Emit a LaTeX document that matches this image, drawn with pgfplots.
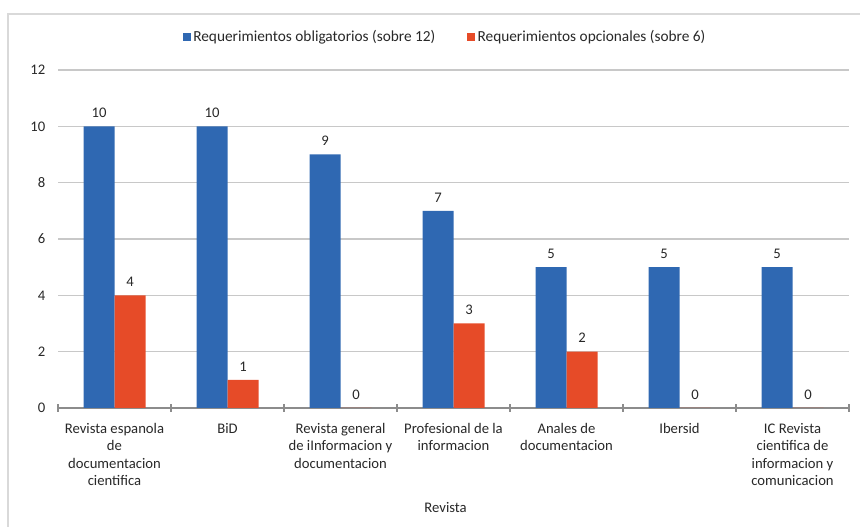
\documentclass[border=0pt]{standalone}
\usepackage{fontspec}
\setmainfont{Carlito}
\usepackage{pgfplots}
\pgfplotsset{compat=1.18}

\definecolor{oblig}{RGB}{47,104,178}
\definecolor{opcio}{RGB}{230,75,40}
\definecolor{gridc}{RGB}{200,200,200}
\definecolor{framec}{RGB}{217,217,217}
\definecolor{txt}{RGB}{40,40,40}

\begin{document}
\begin{tikzpicture}
\useasboundingbox (0,0) rectangle (645pt,395.25pt);
\draw[framec, line width=1.5pt] (6pt,-2pt) -- (6pt,384.75pt) -- (650pt,384.75pt);
\begin{axis}[
  at={(43.5pt,89.25pt)}, anchor=south west,
  scale only axis, width=593.25pt, height=253.5pt,
  /pgf/number format/assume math mode=true,
  ybar=0pt, bar width=23.25pt,
  xmin=-0.5, xmax=6.5, ymin=0, ymax=12,
  ytick={0,2,...,12},
  xtick={0,...,6},
  xticklabels={
    {Revista espanola\\de\\documentacion\\cientifica},
    {BiD},
    {Revista general\\de iInformacion y\\documentacion},
    {Profesional de la\\informacion},
    {Anales de\\documentacion},
    {Ibersid},
    {IC Revista\\cientifica de\\informacion y\\comunicacion}},
  x tick label style={align=center, anchor=north, yshift=-6pt, font=\fontsize{11}{12.9}\selectfont, text=txt},
  y tick label style={font=\fontsize{11}{13}\selectfont, text=txt, xshift=-6pt},
  major x tick style={draw=none},
  minor xtick={-0.5,0.5,...,6.5},
  minor tick length=6pt,
  minor x tick style={draw=gray!90, line width=0.8pt},
  xtick align=center,
  ytick style={draw=none},
  ymajorgrids, grid style={gridc, line width=0.8pt},
  axis x line*=bottom, axis y line*=left,
  x axis line style={-, draw=gray!90, line width=0.8pt},
  y axis line style={draw=none},
  xlabel={Revista},
  xlabel style={font=\fontsize{11}{13}\selectfont, text=txt, at={(axis description cs:0.49,0)}, anchor=center, yshift=-75pt},
  nodes near coords,
  every node near coord/.append style={font=\fontsize{11}{13}\selectfont, text=txt, yshift=3pt},
  legend columns=2,
  legend style={at={(axis description cs:0.49,1)}, anchor=center, yshift=24.75pt, draw=none,
    font=\fontsize{11.5}{13}\selectfont, text=txt, inner xsep=0pt,
    /tikz/every even column/.append style={column sep=22pt}},
  legend image code/.code={\fill[#1] (0pt,-2.8pt) rectangle (5.6pt,2.8pt);},
  legend cell align=left,
]
\addplot[fill=oblig, draw=none] coordinates {(0,10) (1,10) (2,9) (3,7) (4,5) (5,5) (6,5)};
\addplot[fill=opcio, draw=none] coordinates {(0,4) (1,1) (2,0) (3,3) (4,2) (5,0) (6,0)};
\legend{Requerimientos obligatorios (sobre 12), Requerimientos opcionales (sobre 6)}
\end{axis}
\end{tikzpicture}
\end{document}
